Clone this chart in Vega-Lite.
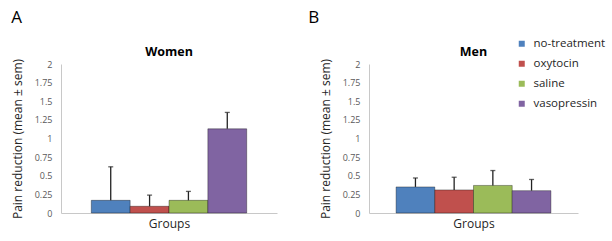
{
  "$schema": "https://vega.github.io/schema/vega-lite/v6.json",
  "padding": {"left": 11, "top": 8, "right": 5, "bottom": 5},
  "background": "white",
  "config": {
    "font": "Open Sans",
    "view": {"stroke": null},
    "axisY": {"labelOverlap": false, "grid": false, "ticks": false, "domainColor": "#c8c8c8", "labelFontSize": 9, "labelColor": "#595959", "labelPadding": 9, "titleFontSize": 12, "titleFontWeight": "normal", "titleColor": "#262626", "titlePadding": 10},
    "axisX": {"labels": false, "ticks": false, "domainColor": "#c8c8c8", "titleFontSize": 12, "titleFontWeight": "normal", "titleColor": "#262626", "titlePadding": 5},
    "legend": {"orient": "none", "legendX": 455, "legendY": -26, "padding": 0, "title": null, "symbolType": "square", "symbolSize": 36, "symbolStrokeWidth": 0, "labelFontSize": 11.5, "labelColor": "#262626", "rowPadding": 7, "labelOffset": 6}
  },
  "data": {"values": [
    {"sex": "Women", "treatment": "no-treatment", "mean": 0.17, "upper": 0.62},
    {"sex": "Women", "treatment": "oxytocin", "mean": 0.09, "upper": 0.24},
    {"sex": "Women", "treatment": "saline", "mean": 0.17, "upper": 0.29},
    {"sex": "Women", "treatment": "vasopressin", "mean": 1.13, "upper": 1.35},
    {"sex": "Men", "treatment": "no-treatment", "mean": 0.35, "upper": 0.47},
    {"sex": "Men", "treatment": "oxytocin", "mean": 0.31, "upper": 0.48},
    {"sex": "Men", "treatment": "saline", "mean": 0.37, "upper": 0.57},
    {"sex": "Men", "treatment": "vasopressin", "mean": 0.30, "upper": 0.45}
  ]},
  "spacing": 31,
  "hconcat": [
    {
      "title": {"text": "A", "anchor": "start", "frame": "bounds", "align": "left", "fontSize": 17, "fontWeight": "normal", "color": "#000000", "offset": 19},
      "vconcat": [
        {
          "title": {"text": "Women", "fontSize": 12.5, "fontWeight": "bold", "color": "#000000", "offset": 0},
          "width": 216, "height": 149,
          "transform": [{"filter": "datum.sex === 'Women'"}],
          "encoding": {
            "x": {"field": "treatment", "type": "nominal", "scale": {"paddingInner": 0, "paddingOuter": 0.78}, "axis": {"title": "Groups"}},
            "y": {"field": "mean", "type": "quantitative", "scale": {"domain": [0, 2]}, "axis": {"title": "Pain reduction (mean ± sem)", "values": [0, 0.25, 0.5, 0.75, 1, 1.25, 1.5, 1.75, 2], "format": ".3~g", "labelOverlap": false}},
            "color": {"field": "treatment", "type": "nominal", "scale": {"range": ["#4F81BD", "#C0504D", "#9BBB59", "#8064A2"]}}
          },
          "layer": [
            {"mark": {"type": "bar", "stroke": "#000000", "strokeOpacity": 0.35, "strokeWidth": 1}},
            {"mark": {"type": "rule", "strokeWidth": 1.3},
             "encoding": {"y2": {"field": "upper"}, "color": {"value": "#222222"}}},
            {"mark": {"type": "tick", "thickness": 1.3, "size": 5},
             "encoding": {"y": {"field": "upper", "type": "quantitative"}, "color": {"value": "#222222"}}}
          ]
        }
      ]
    },
    {
      "title": {"text": "B", "anchor": "start", "frame": "bounds", "align": "right", "fontSize": 17, "fontWeight": "normal", "color": "#000000", "offset": 19},
      "vconcat": [
        {
          "title": {"text": "Men", "fontSize": 12.5, "fontWeight": "bold", "color": "#000000", "offset": 0},
          "width": 209, "height": 149,
          "transform": [{"filter": "datum.sex === 'Men'"}],
          "encoding": {
            "x": {"field": "treatment", "type": "nominal", "scale": {"paddingInner": 0, "paddingOuter": 0.7}, "axis": {"title": "Groups"}},
            "y": {"field": "mean", "type": "quantitative", "scale": {"domain": [0, 2]}, "axis": {"title": "Pain reduction (mean ± sem)", "values": [0, 0.25, 0.5, 0.75, 1, 1.25, 1.5, 1.75, 2], "format": ".3~g", "labelOverlap": false}},
            "color": {"field": "treatment", "type": "nominal", "scale": {"range": ["#4F81BD", "#C0504D", "#9BBB59", "#8064A2"]}}
          },
          "layer": [
            {"mark": {"type": "bar", "stroke": "#000000", "strokeOpacity": 0.35, "strokeWidth": 1}},
            {"mark": {"type": "rule", "strokeWidth": 1.3},
             "encoding": {"y2": {"field": "upper"}, "color": {"value": "#222222"}}},
            {"mark": {"type": "tick", "thickness": 1.3, "size": 5},
             "encoding": {"y": {"field": "upper", "type": "quantitative"}, "color": {"value": "#222222"}}}
          ]
        }
      ]
    }
  ]
}
